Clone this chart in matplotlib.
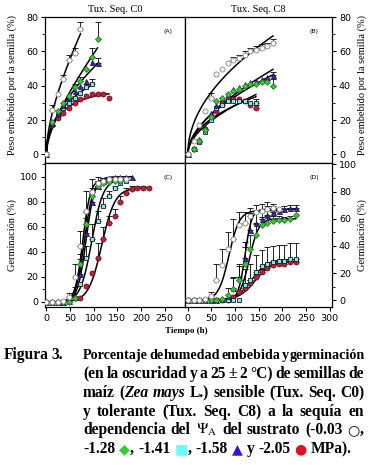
import numpy as np
import matplotlib
matplotlib.use('Agg')
import matplotlib.pyplot as plt
from matplotlib.ticker import MultipleLocator

# ---- datos ----
# (A) Tux. Seq. C0, peso embebido (%)
a_hours = [0, 12, 24, 36, 48, 60, 72, 84, 96, 108, 120, 132]
a_open = [0, 26, 35, 44, 55, 59, 73]
a_open_err = [0, 3, 0, 2, 3, 3, 4]
a_green = [0, 19, 25, 30, 34, 39, 43, 50, 57, 67]
a_green_err = [0, 0, 0, 0, 0, 2, 2, 0, 5, 10]
a_tri = [0, 18, 24, 29, 33, 37, 40, 43, 54, 53]
a_tri_err = [0, 0, 0, 0, 0, 0, 0, 0, 0, 3]
a_cyan = [0, 18, 23, 27, 30, 33, 36, 39, 41]
a_cyan_err = [0, 0, 0, 0, 0, 0, 0, 2, 3]
a_red = [0, 17, 21, 24, 27, 30, 32, 34, 35, 35, 35, 33]
a_red_err = [0, 0, 0, 0, 0, 0, 0, 0, 0, 1, 1, 0]

# (B) Tux. Seq. C8, peso embebido (%)
b_hours = [0, 12, 24, 36, 48, 60, 72, 84, 96, 108, 120, 132, 144, 156, 168, 180]
b_open = [0, 8, 17, 25, 33, 47, 50, 53, 55, 56, 58, 60, 61, 62, 63, 65]
b_open_err = [0, 0, 0, 0, 3, 0, 0, 0, 2, 2, 2, 2, 2, 2, 2, 2]
b_green = [0, 3, 8, 14, 22, 31, 33, 35, 37, 38, 40, 41, 41, 42, 42, 40]
b_green_err = [0, 0, 0, 0, 0, 0, 0, 0, 0, 0, 0, 0, 0, 0, 0, 4]
b_tri = [0, 4, 9, 16, 24, 29, 33, 35, 38, 39, 41, 42, 43, 44, 45, 46]
b_tri_err = [0, 0, 0, 0, 0, 0, 0, 0, 0, 0, 0, 0, 0, 0, 0, 2]
b_cyan = [0, 3, 7, 13, 20, 27, 29, 31, 31, 31, 31, 30, 30]
b_cyan_err = [0, 0, 0, 0, 0, 0, 2, 0, 0, 0, 0, 0, 2]
b_red = [0, 3, 8, 15, 22, 25, 30, 32, 32, 32, 31, 29, 27]
b_red_err = [0, 0, 0, 0, 0, 0, 0, 0, 2, 0, 0, 0, 2]

# (C) Tux. Seq. C0, germinacion (%)
c_hours = [0, 12, 24, 36, 48, 60, 72, 84, 96, 108, 120, 132, 144, 156, 168, 180, 192, 204, 216]
c_open = [0, 0, 0, 1, 4, 20, 45, 73, 88, 95, 97, 98, 98, 98, 98]
c_open_err = [0, 0, 0, 0, 3, 10, 12, 16, 10, 5, 2, 2, 2, 0, 0]
c_green = [0, 0, 0, 0, 0, 3, 30, 62, 85, 93, 95, 96, 97, 97]
c_green_err = [0, 0, 0, 0, 0, 0, 8, 10, 6, 4, 2, 2, 0, 0]
c_tri = [0, 0, 0, 0, 1, 4, 22, 55, 80, 93, 97, 99, 100, 100, 100, 100]
c_tri_err = [0, 0, 0, 0, 0, 8, 12, 12, 8, 4, 2, 0, 0, 0, 0, 0]
c_cyan = [0, 0, 0, 0, 1, 3, 14, 35, 50, 65, 77, 85, 91, 95, 97]
c_cyan_err = [0, 0, 0, 0, 0, 0, 0, 10, 12, 8, 6, 4, 2, 0, 0]
c_red = [0, 0, 0, 0, 1, 3, 3, 13, 23, 35, 50, 63, 69, 80, 87, 90, 91, 91, 91]
c_red_err = [0, 0, 0, 0, 0, 0, 0, 0, 0, 12, 10, 6, 5, 5, 4, 3, 2, 2, 0]

# (D) Tux. Seq. C8, germinacion (%)
d_hours = [0, 12, 24, 36, 48, 60, 72, 84, 96, 108, 120, 132, 144, 156, 168, 180, 192, 204, 216, 228]
d_open = [0, 0, 0, 1, 3, 15, 26, 38, 45, 55, 57, 62, 65, 66, 67, 68, 67]
d_open_err = [0, 0, 0, 0, 3, 12, 12, 12, 15, 10, 8, 6, 5, 5, 5, 3, 0]
d_tri = [0, 0, 0, 0, 0, 0, 1, 3, 9, 17, 31, 52, 57, 60, 63, 65, 66, 67, 68, 68]
d_tri_err = [0, 0, 0, 0, 0, 0, 0, 0, 8, 10, 12, 12, 8, 6, 6, 4, 2, 2, 2, 2]
d_green = [0, 0, 0, 0, 0, 0, 1, 4, 8, 15, 27, 38, 48, 55, 57, 58, 59, 59, 60, 63]
d_green_err = [0, 0, 0, 0, 0, 0, 0, 5, 8, 10, 12, 10, 8, 6, 5, 4, 3, 2, 2, 0]
d_cyan = [0, 0, 0, 0, 0, 0, 0, 0, 0, 0, 11, 15, 21, 25, 27, 28, 29, 29, 30, 30]
d_cyan_err = [0, 0, 0, 0, 0, 0, 0, 0, 0, 0, 12, 12, 12, 12, 12, 12, 12, 12, 12, 12]
d_red = [0, 0, 0, 0, 0, 0, 0, 0, 2, 6, 9, 13, 17, 21, 24, 26, 27, 27, 28, 28]
d_red_err = [0, 0, 0, 0, 0, 0, 0, 0, 0, 0, 2, 2, 2, 2, 2, 2, 2, 2, 2, 2]

# parametros de las curvas logisticas (a, t50, b) de C y D
c_fit = {'open': (98, 77, 8), 'green': (97, 80, 9), 'tri': (100, 84, 9),
         'cyan': (98, 96, 12), 'red': (91, 117, 14)}
d_fit = {'open': (66, 87, 11), 'tri': (67, 121, 7), 'green': (60, 130, 10),
         'cyan': (30, 135, 16), 'red': (28.5, 142, 17)}

series_names = ['open', 'green', 'tri', 'cyan', 'red']
styles = {
    'open': dict(marker='o', mfc='white', mec='#808080', ms=3.6),
    'green': dict(marker='D', mfc='#3cc43c', mec='#257a25', ms=3.0),
    'tri': dict(marker='^', mfc='#3d2a9e', mec='#1c145c', ms=3.6),
    'cyan': dict(marker='s', mfc='#7fe8e8', mec='#1a1a1a', ms=3.2),
    'red': dict(marker='o', mfc='#c41c3c', mec='#6a1020', ms=3.6),
}

W, H = 375, 465
fig = plt.figure(figsize=(3.75, 4.65), dpi=100)

def ax_at(x0, x1, y0, y1):
    return fig.add_axes([x0 / W, 1 - y1 / H, (x1 - x0) / W, (y1 - y0) / H])

axA = ax_at(45, 185, 17, 163)
axB = ax_at(185, 332, 17, 163)
axC = ax_at(45, 185, 163, 307)
axD = ax_at(185, 332, 163, 307)

def sqrt_fit(t, y):
    t = np.asarray(t, float)
    X = np.column_stack([np.sqrt(t), t])
    coef = np.linalg.lstsq(X, np.asarray(y, float), rcond=None)[0]
    tt = np.linspace(0, t[-1], 150)
    return tt, np.column_stack([np.sqrt(tt), tt]) @ coef

def logistic(tt, p):
    a, t50, b = p
    return a / (1 + np.exp(-(tt - t50) / b))

def draw_panel(ax, hours, data, fits=None):
    for name in series_names:
        y, err = data[name]
        t = hours[:len(y)]
        if fits is None:
            tt, yy = sqrt_fit(t, y)
        else:
            tt = np.linspace(0, t[-1], 200)
            yy = logistic(tt, fits[name])
        ax.plot(tt, yy, color='black', lw=1.1, zorder=3)
        err = np.asarray(err, float)
        m = err > 0
        ax.errorbar(np.asarray(t)[m], np.asarray(y)[m], yerr=[np.zeros(m.sum()), err[m]],
                    fmt='none', ecolor='black', elinewidth=0.6, capsize=2, capthick=0.6, zorder=2)
    for name in series_names[::-1]:
        y, err = data[name]
        ax.plot(hours[:len(y)], y, ls='none', mew=0.6, zorder=4, **styles[name])

draw_panel(axA, a_hours, {'open': (a_open, a_open_err), 'green': (a_green, a_green_err),
                          'tri': (a_tri, a_tri_err), 'cyan': (a_cyan, a_cyan_err),
                          'red': (a_red, a_red_err)})
draw_panel(axB, b_hours, {'open': (b_open, b_open_err), 'green': (b_green, b_green_err),
                          'tri': (b_tri, b_tri_err), 'cyan': (b_cyan, b_cyan_err),
                          'red': (b_red, b_red_err)})
draw_panel(axC, c_hours, {'open': (c_open, c_open_err), 'green': (c_green, c_green_err),
                          'tri': (c_tri, c_tri_err), 'cyan': (c_cyan, c_cyan_err),
                          'red': (c_red, c_red_err)}, c_fit)
draw_panel(axD, d_hours, {'open': (d_open, d_open_err), 'green': (d_green, d_green_err),
                          'tri': (d_tri, d_tri_err), 'cyan': (d_cyan, d_cyan_err),
                          'red': (d_red, d_red_err)}, d_fit)

tick_font = dict(labelsize=6.8)
for ax, lim in [(axA, (-3, 293)), (axC, (-3, 293)), (axB, (-6, 305)), (axD, (-6, 305))]:
    ax.set_xlim(*lim)
    for s in ax.spines.values():
        s.set_linewidth(0.9)
axA.set_ylim(-5, 80)
axB.set_ylim(-5, 80)
axC.set_ylim(-4, 111)
axD.set_ylim(-5, 101)

for ax in (axA, axB):
    ax.tick_params(axis='x', which='both', bottom=False, labelbottom=False)
    ax.yaxis.set_major_locator(MultipleLocator(20))
    ax.yaxis.set_minor_locator(MultipleLocator(10))
for ax in (axC, axD):
    ax.xaxis.set_major_locator(MultipleLocator(50))
    ax.yaxis.set_major_locator(MultipleLocator(20))
    ax.yaxis.set_minor_locator(MultipleLocator(10))
    ax.tick_params(axis='x', direction='out', length=3, width=0.8, pad=2, **tick_font)
axC.set_xticks([0, 50, 100, 150, 200, 250])
axD.set_xticks([0, 50, 100, 150, 200, 250, 300])

for ax in (axA, axC):
    ax.tick_params(axis='y', which='major', direction='out', length=3, width=0.8, pad=2, **tick_font)
    ax.tick_params(axis='y', which='minor', direction='out', length=2, width=0.6)
for ax in (axB, axD):
    ax.yaxis.tick_right()
    ax.tick_params(axis='y', which='major', direction='out', length=3, width=0.8, pad=2, **tick_font)
    ax.tick_params(axis='y', which='minor', direction='out', length=2, width=0.6)

for ax, lab in [(axA, '(A)'), (axB, '(B)'), (axC, '(C)'), (axD, '(D)')]:
    ax.text(0.88, 0.9, lab, transform=ax.transAxes, fontsize=4.5, ha='center', va='center')

serif = 'Liberation Serif'
fig.text(115 / W, 1 - 10 / H, 'Tux. Seq. C0', family=serif, fontsize=7.5, ha='center', va='center')
fig.text(258 / W, 1 - 10 / H, 'Tux. Seq. C8', family=serif, fontsize=7.5, ha='center', va='center')
fig.text(12 / W, 1 - 85 / H, 'Peso embebido por la semilla (%)', family=serif, fontsize=7.5,
         rotation=90, ha='center', va='center')
fig.text(362 / W, 1 - 85 / H, 'Peso embebido por la semilla (%)', family=serif, fontsize=7.5,
         rotation=90, ha='center', va='center')
fig.text(12 / W, 1 - 235 / H, 'Germinación (%)', family=serif, fontsize=7.5,
         rotation=90, ha='center', va='center')
fig.text(362 / W, 1 - 235 / H, 'Germinación (%)', family=serif, fontsize=7.5,
         rotation=90, ha='center', va='center')
fig.text(186 / W, 1 - 331 / H, 'Tiempo (h)', family=serif, fontsize=6.5, weight='bold',
         ha='center', va='center')

# ---- pie de figura (justificado palabra por palabra) ----
plt.rcParams['mathtext.fontset'] = 'stix'
renderer = fig.canvas.get_renderer()
cap_size = 11.2
cap = dict(family=[serif, 'DejaVu Sans'], weight='bold', fontsize=cap_size)
ital = dict(cap, style='italic')
sym = dict(cap, family='DejaVu Sans', fontsize=cap_size - 1)

def put_line(words, y_base, x0, x1, justify=True, space=4.0, min_gap=1.0):
    placed = []
    for word in words:
        placed.append([fig.text(0, 1 - y_base / H, s, ha='left', va='baseline', **kw)
                       for s, kw in word])

    def measure():
        return [[t.get_window_extent(renderer).width for t in segs] for segs in placed]

    widths = measure()
    total = sum(sum(w) for w in widths)
    need = total + min_gap * (len(words) - 1)
    if justify and need > (x1 - x0):
        # encoger la linea para que quepa
        k = (x1 - x0 - min_gap * (len(words) - 1)) / total
        for segs in placed:
            for t in segs:
                t.set_fontsize(t.get_fontsize() * k)
        widths = measure()
        total = sum(sum(w) for w in widths)
    if justify and len(words) > 1:
        gap = max((x1 - x0 - total) / (len(words) - 1), min_gap)
    else:
        gap = space
    x = x0
    for segs, ws in zip(placed, widths):
        for t, w in zip(segs, ws):
            t.set_x(x / W)
            x += w
        x += gap

def plain(line):
    return [[(w, cap)] for w in line.split()]

X0, X1 = 83, 364
put_line(plain('Figura 3.'), 359, 4, 80, justify=False, space=2.0)
put_line(plain('Porcentaje de humedad embebida y germinación'), 359, X0, X1)
put_line(plain('(en la oscuridad y a 25 ± 2 °C) de semillas de'), 378, X0, X1)
put_line([[('maíz', cap)], [('(', cap), ('Zea', ital)], [('mays', ital)], [('L.)', cap)],
          [('sensible', cap)], [('(Tux.', cap)], [('Seq.', cap)], [('C0)', cap)]], 397, X0, X1)
put_line(plain('y tolerante (Tux. Seq. C8) a la sequía en'), 416, X0, X1)
put_line([[('dependencia', cap)], [('del', cap)],
          [(r'$\Psi_{\mathrm{A}}$', dict(fontsize=cap_size))], [('del', cap)],
          [('sustrato', cap)], [('(-0.03', cap)], [('○', sym), (',', cap)]],
         434, X0, X1)
put_line([[('-1.28', cap)], [('◆', dict(sym, color='#33cc33')), (',', cap)],
          [('-1.41', cap)], [('■', dict(sym, color='#66ffff')), (',', cap)],
          [('-1.58', cap)], [('▲', dict(sym, color='#3311dd'))],
          [('y', cap)], [('-2.05', cap)], [('●', dict(sym, color='#dd1122'))],
          [('MPa).', cap)]], 453, X0, X1, justify=False)

fig.savefig('out.png', dpi=100)
